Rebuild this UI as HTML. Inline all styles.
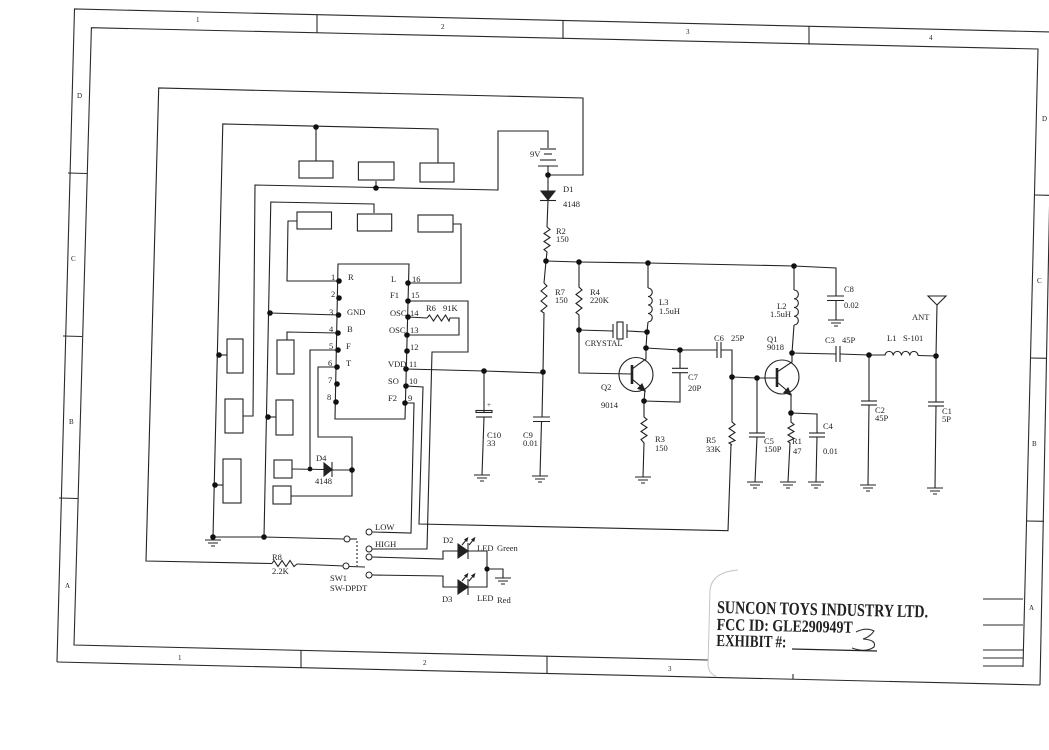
<!DOCTYPE html>
<html><head><meta charset="utf-8"><style>
html,body{margin:0;padding:0;background:#fff;}
svg{display:block;}
text{font-family:"Liberation Serif",serif;fill:#222;}
</style></head><body>
<svg width="1049" height="750" viewBox="0 0 1049 750" xmlns="http://www.w3.org/2000/svg">
<rect width="1049" height="750" fill="#fff"/>
<g fill="none" stroke="#2a2a2a" stroke-width="1.1">
<!-- frame -->
<polyline points="57,662 74.5,9 1053,32"/>
<line x1="1053" y1="32" x2="1040" y2="685"/>
<line x1="57" y1="662" x2="1040" y2="685"/>
<polyline points="708,660 74,645 91.4,27.7 1038,49 1023,667"/>
<line x1="317" y1="14.7" x2="317" y2="33"/>
<line x1="563" y1="20.5" x2="563" y2="38.8"/>
<line x1="809" y1="26.3" x2="809" y2="44.6"/>
<line x1="301" y1="650.3" x2="301" y2="667.7"/>
<line x1="547" y1="655.9" x2="547" y2="673.5"/>
<line x1="793" y1="674" x2="793" y2="679"/>
<line x1="68" y1="173" x2="87" y2="173.5"/>
<line x1="63" y1="336" x2="82" y2="336.5"/>
<line x1="59" y1="498" x2="78" y2="498.5"/>
<line x1="1035" y1="195" x2="1051" y2="195.3"/>
<line x1="1030" y1="358" x2="1047" y2="358.3"/>
<line x1="1027" y1="521" x2="1044" y2="521.3"/>
<!-- title block lines -->
<line x1="983" y1="599" x2="1023" y2="599"/>
<line x1="983" y1="625" x2="1023" y2="625"/>
<line x1="983" y1="650" x2="1023" y2="650"/>
<line x1="983" y1="658" x2="1023" y2="658"/>
<line x1="983" y1="666" x2="1023" y2="666"/>
</g>
<path d="M738,570 Q712,572 710,590 L708,665 Q709,674 716,676" fill="none" stroke="#c4c4c4" stroke-width="1"/>

<g fill="none" stroke="#222" stroke-width="1.1">
<!-- outer loop -->
<polyline points="548,175 583,175 583,98 158.7,88 146,561 272,563.5"/>
<polyline points="272,563.5 274,560.5 278,566.5 282,560.5 286,566.5 290,560.5 294,566.5 297,564"/>
<line x1="297" y1="564" x2="344" y2="566"/>
<!-- battery -->
<polyline points="548,148 548,131 498,131 498,190 255,185 253,416 243,416"/>
<line x1="540" y1="149" x2="556" y2="149"/>
<line x1="544" y1="154" x2="552" y2="154"/>
<line x1="540" y1="160" x2="556" y2="160"/>
<line x1="538" y1="166" x2="558" y2="166"/>
<line x1="548" y1="166" x2="548" y2="191"/>
<line x1="376" y1="188" x2="376" y2="181"/>
<!-- row 1 boxes -->
<polyline points="316,161 316,127"/>
<polyline points="438,163 438,129 222.8,124 213,537"/>
<rect x="299" y="161" width="34" height="17"/>
<rect x="358.4" y="162" width="35.6" height="18"/>
<rect x="420" y="163" width="34" height="19"/>
<!-- row 2 boxes -->
<polyline points="374,213 374,204 270.8,202 264,537"/>
<rect x="297" y="212" width="34.5" height="17"/>
<rect x="357.4" y="214" width="34.3" height="17"/>
<rect x="418" y="215" width="35" height="17"/>
<polyline points="297,221 288,221 287,281 339,281"/>
<polyline points="453,224 461,224 461,283 408,283"/>
<!-- left boxes -->
<rect x="227" y="339" width="16" height="34"/>
<line x1="219" y1="355" x2="227" y2="355"/>
<rect x="225" y="399" width="18" height="34"/>
<rect x="223" y="459" width="18" height="44"/>
<line x1="215" y1="485" x2="223" y2="485"/>
<rect x="277" y="340" width="17" height="34"/>
<polyline points="287,340 287,332 338,333"/>
<rect x="276" y="400" width="17" height="35"/>
<line x1="268" y1="417" x2="276" y2="417"/>
<rect x="274" y="460" width="18" height="18"/>
<rect x="273" y="486" width="18" height="18"/>
<line x1="270" y1="313" x2="338.5" y2="315"/>
<!-- IC -->
<polygon points="338,264 409,264 405,419 335,419"/>
<polyline points="338,350 310,350 310,469"/>
<polyline points="292,469 324,469.5"/>
<polyline points="337,367 318,367 318,437 352,437 352,496 291,496"/>
<line x1="332" y1="470" x2="352" y2="470"/>
<!-- right IC wires -->
<polyline points="408,301 468,301 468,352 432,352 427,549 372,549"/>
<polyline points="408,317 427,318"/>
<polyline points="427,318 429.5,315 433.5,321 437.5,315 441.5,321 445.5,315 449,321 450,318 459,318 459,335 407,335"/>
<polyline points="406,369 484,371 543,373"/>
<polyline points="406,386 423,387 419,524 728,530.7 731,445"/>
<polyline points="405,403 414,403 411,533 372,532"/>
<!-- bottom ground bus & switch -->
<polyline points="213,537 264,537 344,539"/>
<line x1="350" y1="539" x2="357" y2="539"/>
<line x1="349" y1="566.5" x2="365" y2="567"/>
<line x1="357" y1="541" x2="357" y2="566" stroke-dasharray="2,2"/>
<polyline points="372,557 443,559 443,551 458,551"/>
<polyline points="372,575 443,576 443,587 458,587"/>
<polyline points="468,551 487,551 487,587 468,587"/>
<polyline points="487,569 503,569 503,578"/>
<!-- C10 -->
<line x1="484" y1="371" x2="484" y2="412"/>
<rect x="476" y="410.5" width="16" height="2" />
<line x1="476" y1="417" x2="492" y2="417"/>
<line x1="484" y1="417" x2="482" y2="475"/>
<!-- Vcc line / R2 / R7 / C9 -->
<line x1="548" y1="200" x2="547" y2="227"/>
<polyline points="547,227 550,229.5 544,233.5 550,237.5 544,241.5 550,245.5 544,249.5 547,252 546,261"/>
<polyline points="546,261 544,283"/>
<polyline points="544,283 547,286 541,291 547,296 541,301 547,306 541,311 544,313 543,372 542,417"/>
<line x1="533" y1="417" x2="550" y2="417"/>
<line x1="533" y1="421.5" x2="550" y2="421.5"/>
<line x1="541.5" y1="421.5" x2="540" y2="476"/>
<polyline points="546,261 579,262 648,263 794,266 836,268 836,296"/>
<line x1="827" y1="296" x2="844" y2="296"/>
<line x1="827" y1="300.5" x2="844" y2="300.5"/>
<line x1="836" y1="300.5" x2="836" y2="320"/>
<!-- R4 -->
<polyline points="579,262 579,287 582,290 576,294.5 582,299 576,303.5 582,308 576,312.5 579,315 579,373 632,374"/>
<!-- crystal -->
<line x1="579" y1="330" x2="613" y2="331"/>
<line x1="613" y1="324" x2="613" y2="338"/>
<rect x="617" y="322" width="6" height="17"/>
<line x1="627" y1="324" x2="627" y2="338"/>
<line x1="627" y1="331" x2="647" y2="332"/>
<!-- L3 -->
<line x1="648" y1="263" x2="648" y2="288"/>
<path d="M648,288 a4.25,4.25 0 0 1 0,8.5 a4.25,4.25 0 0 1 0,8.5 a4.25,4.25 0 0 1 0,8.5 a4.25,4.25 0 0 1 0,8.5"/>
<polyline points="648,322 647,332 646,348"/>
<!-- Q2 -->
<circle cx="636" cy="374.5" r="17"/>
<polyline points="632,369 646,359 646,348"/>
<polyline points="632,379 645,390 644,401"/>
<polyline points="646,348 680,350 717,350"/>
<line x1="717" y1="342" x2="717" y2="358"/>
<line x1="721" y1="342" x2="721" y2="358"/>
<polyline points="721,350 732,350 732,377"/>
<line x1="680" y1="350" x2="680" y2="368"/>
<line x1="672" y1="368.3" x2="688" y2="368.3"/>
<line x1="672" y1="372.7" x2="688" y2="372.7"/>
<polyline points="680,372.7 680,402 644,401"/>
<polyline points="644,401 644,417 647,419.5 641,423.5 647,427.5 641,431.5 647,435.5 641,439.5 644,443 643,477"/>
<!-- R5 -->
<polyline points="732,377 732,422 735,424.5 729,428.5 735,432.5 729,436.5 735,440.5 729,443 732,445"/>
<polyline points="732,377 757,378 777,378"/>
<line x1="757" y1="378" x2="757" y2="433"/>
<line x1="749" y1="433" x2="765" y2="433"/>
<line x1="749" y1="437" x2="765" y2="437"/>
<line x1="757" y1="437" x2="755" y2="482"/>
<!-- Q1 -->
<circle cx="782" cy="377" r="17"/>
<polyline points="777,372 792,362 792,353"/>
<polyline points="777,382 791,394 791,413"/>
<polyline points="794,266 794,290"/>
<path d="M794,290 a4.375,4.375 0 0 1 0,8.75 a4.375,4.375 0 0 1 0,8.75 a4.375,4.375 0 0 1 0,8.75 a4.375,4.375 0 0 1 0,8.75"/>
<polyline points="794,325 792,353 836,354"/>
<line x1="836" y1="346" x2="836" y2="362"/>
<line x1="840" y1="346" x2="840" y2="362"/>
<polyline points="840,354 869,355 885,355"/>
<path d="M885,355.5 a4.125,4.125 0 0 1 8.25,0 a4.125,4.125 0 0 1 8.25,0 a4.125,4.125 0 0 1 8.25,0 a4.125,4.125 0 0 1 8.25,0"/>
<polyline points="918,355.5 936,356"/>
<line x1="936" y1="356" x2="937" y2="305"/>
<polygon points="928,296 946,296 937,305"/>
<line x1="869" y1="355" x2="869" y2="401"/>
<line x1="861" y1="401" x2="877" y2="401"/>
<line x1="861" y1="405" x2="877" y2="405"/>
<line x1="869" y1="405" x2="868" y2="485"/>
<line x1="936" y1="356" x2="936" y2="402"/>
<line x1="928" y1="402" x2="944" y2="402"/>
<line x1="928" y1="406" x2="944" y2="406"/>
<line x1="936" y1="406" x2="935" y2="488"/>
<!-- R1 / C4 -->
<polyline points="791,413 791,422 794,424.5 788,428 794,431.5 788,435 794,438.5 788,441.5 790,443 788,482"/>
<polyline points="791,413 817,414 817,433"/>
<line x1="809" y1="433" x2="825" y2="433"/>
<line x1="809" y1="437" x2="825" y2="437"/>
<line x1="817" y1="437" x2="816" y2="482"/>
</g>

<!-- thick bars / filled parts -->
<g stroke="#222" stroke-width="2.6">
<line x1="632" y1="365" x2="632" y2="384"/>
<line x1="777" y1="368" x2="777" y2="387"/>
</g>
<g fill="#222" stroke="#222" stroke-width="1.1">
<polygon points="541,191 555,191 548,200"/><line x1="540" y1="200.5" x2="556" y2="200.5"/>
<polygon points="324,463 324,476 332,469.5"/><line x1="332" y1="462" x2="332" y2="477"/>
<polygon points="458,544 458,558 468,551"/><line x1="468" y1="543" x2="468" y2="559"/>
<polygon points="458,580 458,594 468,587"/><line x1="468" y1="579" x2="468" y2="595"/>
<polygon points="645,391 638,388.5 642,384"/>
<polygon points="791,395 784,392.5 788,388"/>
<!-- LED arrows -->
<line x1="462" y1="545" x2="467" y2="539"/><polygon points="468,537.5 464.5,539.5 467,541.5" stroke-width="0.6"/>
<line x1="469" y1="545" x2="474" y2="539"/><polygon points="475,537.5 471.5,539.5 474,541.5" stroke-width="0.6"/>
<line x1="462" y1="581" x2="467" y2="575"/><polygon points="468,573.5 464.5,575.5 467,577.5" stroke-width="0.6"/>
<line x1="469" y1="581" x2="474" y2="575"/><polygon points="475,573.5 471.5,575.5 474,577.5" stroke-width="0.6"/>
</g>

<!-- switch circles -->
<g fill="#fff" stroke="#222" stroke-width="1">
<circle cx="347" cy="539" r="3"/>
<circle cx="346" cy="566" r="3"/>
<circle cx="369" cy="532" r="3"/>
<circle cx="369" cy="549" r="3"/>
<circle cx="369" cy="557" r="3"/>
<circle cx="369" cy="575" r="3"/>
</g>

<!-- grounds -->
<g stroke="#222" stroke-width="1">
<path d="M205,540h16M208,543h10M211,546h4M213,537v3"/>
<path d="M474,475h16M477,478h10M480,481h4"/>
<path d="M532,476h16M535,479h10M538,482h4"/>
<path d="M635,477h16M638,480h10M641,483h4"/>
<path d="M747,482h16M750,485h10M753,488h4"/>
<path d="M780,482h16M783,485h10M786,488h4"/>
<path d="M808,482h16M811,485h10M814,488h4"/>
<path d="M828,320h16M831,323h10M834,326h4"/>
<path d="M860,485h16M863,488h10M866,491h4"/>
<path d="M927,488h16M930,491h10M933,494h4"/>
<path d="M495,578h16M498,581h10M501,584h4"/>
</g>

<!-- junction dots -->
<g fill="#111">
<circle cx="548" cy="175" r="2.8"/><circle cx="376" cy="188" r="2.8"/><circle cx="316" cy="127" r="2.8"/>
<circle cx="219" cy="355" r="2.8"/><circle cx="215" cy="485" r="2.8"/><circle cx="213" cy="537" r="2.8"/>
<circle cx="264" cy="537" r="2.8"/><circle cx="270" cy="313" r="2.8"/><circle cx="268" cy="417" r="2.8"/>
<circle cx="310" cy="469" r="2.4"/><circle cx="352" cy="470" r="2.8"/><circle cx="484" cy="371" r="2.8"/>
<circle cx="543" cy="372" r="2.8"/><circle cx="546" cy="261" r="2.8"/><circle cx="579" cy="262" r="2.8"/>
<circle cx="648" cy="263" r="2.8"/><circle cx="794" cy="266" r="2.8"/><circle cx="579" cy="330" r="2.8"/>
<circle cx="647" cy="332" r="2.8"/><circle cx="646" cy="348" r="2.8"/><circle cx="680" cy="350" r="2.8"/>
<circle cx="644" cy="401" r="2.8"/><circle cx="732" cy="377" r="2.8"/><circle cx="757" cy="378" r="2.8"/>
<circle cx="792" cy="353" r="2.8"/><circle cx="791" cy="413" r="2.8"/><circle cx="869" cy="355" r="2.8"/>
<circle cx="936" cy="356" r="2.8"/><circle cx="487" cy="569" r="2.6"/>
<!-- IC pins -->
<circle cx="339" cy="281" r="2.8"/><circle cx="339" cy="298" r="2.8"/><circle cx="338.5" cy="315" r="2.8"/>
<circle cx="338" cy="333" r="2.8"/><circle cx="338" cy="350" r="2.8"/><circle cx="337" cy="367" r="2.8"/>
<circle cx="337" cy="384" r="2.8"/><circle cx="336" cy="402" r="2.8"/>
<circle cx="408" cy="283" r="2.8"/><circle cx="408" cy="301" r="2.8"/><circle cx="408" cy="317" r="2.8"/>
<circle cx="407" cy="335" r="2.8"/><circle cx="407" cy="351" r="2.8"/><circle cx="406" cy="369" r="2.8"/>
<circle cx="406" cy="386" r="2.8"/><circle cx="405" cy="403" r="2.8"/>
</g>

<!-- handwritten 3 -->
<path d="M856,632 Q866,627 874,631 Q870,637 863,639 Q877,640 874,647 Q866,653 852,648" fill="none" stroke="#333" stroke-width="1.1"/>
<line x1="792" y1="649" x2="877" y2="651" stroke="#222" stroke-width="1.2"/>

<!-- frame labels -->
<g font-size="7">
<text x="196" y="22">1</text><text x="441" y="29">2</text><text x="686" y="34">3</text><text x="929" y="40">4</text>
<text x="178" y="660">1</text><text x="423" y="665">2</text><text x="668" y="671">3</text>
<text x="77" y="98">D</text><text x="71" y="261">C</text><text x="69" y="424">B</text><text x="65" y="588">A</text>
<text x="1042" y="121">D</text><text x="1037" y="283">C</text><text x="1032" y="446">B</text><text x="1029" y="610">A</text>
</g>

<!-- component labels -->
<g font-size="8.5">
<text x="530" y="157">9V</text>
<text x="563" y="192">D1</text><text x="563" y="207">4148</text>
<text x="556" y="234">R2</text><text x="556" y="242">150</text>
<text x="555" y="295">R7</text><text x="555" y="303">150</text>
<text x="590" y="295">R4</text><text x="590" y="303">220K</text>
<text x="659" y="305">L3</text><text x="659" y="314">1.5uH</text>
<text x="585" y="346">CRYSTAL</text>
<text x="601" y="390">Q2</text><text x="601" y="408">9014</text>
<text x="714" y="341">C6</text><text x="731" y="341">25P</text>
<text x="688" y="380">C7</text><text x="688" y="391">20P</text>
<text x="487" y="438">C10</text><text x="487" y="446">33</text>
<text x="487" y="407" font-size="7">+</text>
<text x="523" y="438">C9</text><text x="523" y="446">0.01</text>
<text x="655" y="442">R3</text><text x="655" y="451">150</text>
<text x="706" y="443">R5</text><text x="706" y="452">33K</text>
<text x="764" y="444">C5</text><text x="764" y="452">150P</text>
<text x="767" y="342">Q1</text><text x="767" y="350">9018</text>
<text x="777" y="309">L2</text><text x="770" y="317">1.5uH</text>
<text x="844" y="292">C8</text><text x="844" y="308">0.02</text>
<text x="825" y="343">C3</text><text x="842" y="343">45P</text>
<text x="887" y="341">L1</text><text x="903" y="341">S-101</text>
<text x="912" y="320">ANT</text>
<text x="875" y="413">C2</text><text x="875" y="421">45P</text>
<text x="942" y="414">C1</text><text x="942" y="422">5P</text>
<text x="823" y="429">C4</text><text x="823" y="454">0.01</text>
<text x="792" y="444">R1</text><text x="793" y="454">47</text>
<text x="426" y="311">R6</text><text x="443" y="311">91K</text>
<text x="316" y="461">D4</text><text x="315" y="484">4148</text>
<text x="272" y="560">R8</text><text x="272" y="574">2.2K</text>
<text x="330" y="581">SW1</text><text x="330" y="591">SW-DPDT</text>
<text x="375" y="530">LOW</text><text x="375" y="547">HIGH</text>
<text x="443" y="543">D2</text><text x="477" y="551">LED</text><text x="497" y="551">Green</text>
<text x="442" y="602">D3</text><text x="477" y="601">LED</text><text x="497" y="603">Red</text>
<!-- IC pin labels -->
<text x="331" y="280">1</text><text x="348" y="280">R</text>
<text x="331" y="297">2</text>
<text x="329" y="315">3</text><text x="347" y="315">GND</text>
<text x="329" y="332">4</text><text x="347" y="332">B</text>
<text x="329" y="349">5</text><text x="346" y="349">F</text>
<text x="328" y="366">6</text><text x="346" y="366">T</text>
<text x="328" y="383">7</text>
<text x="327" y="400">8</text>
<text x="391" y="282">L</text><text x="412" y="282">16</text>
<text x="390" y="298">F1</text><text x="411" y="298">15</text>
<text x="390" y="316">OSC</text><text x="410" y="316">14</text>
<text x="389" y="333">OSC</text><text x="410" y="333">13</text>
<text x="410" y="350">12</text>
<text x="388" y="367">VDD</text><text x="409" y="367">11</text>
<text x="388" y="384">SO</text><text x="409" y="384">10</text>
<text x="388" y="401">F2</text><text x="408" y="401">9</text>
</g>

<!-- title text -->
<g font-weight="bold" transform="rotate(1.2 717 613)">
<text x="717" y="613" font-size="18" textLength="211" lengthAdjust="spacingAndGlyphs">SUNCON TOYS INDUSTRY LTD.</text>
<text x="717" y="630" font-size="17" textLength="136" lengthAdjust="spacingAndGlyphs">FCC ID:  GLE290949T</text>
<text x="717" y="646" font-size="17" textLength="70" lengthAdjust="spacingAndGlyphs">EXHIBIT #:</text>
</g>
</svg>
</body></html>
